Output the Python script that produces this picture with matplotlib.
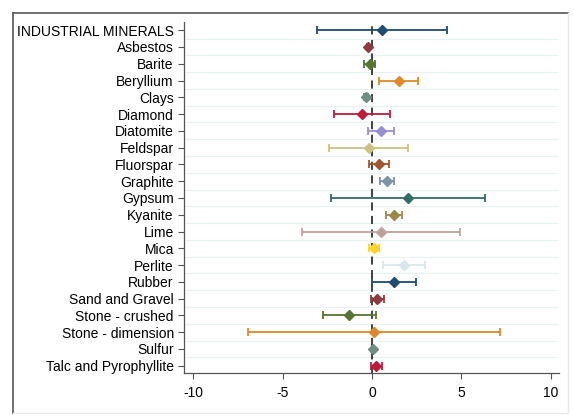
import matplotlib
matplotlib.use("Agg")
import matplotlib.pyplot as plt
from matplotlib.lines import Line2D

plt.rcParams['font.family'] = ['Liberation Sans', 'DejaVu Sans']

categories = ["INDUSTRIAL MINERALS", "Asbestos", "Barite", "Beryllium", "Clays", "Diamond",
              "Diatomite", "Feldspar", "Fluorspar", "Graphite", "Gypsum", "Kyanite", "Lime",
              "Mica", "Perlite", "Rubber", "Sand and Gravel", "Stone - crushed",
              "Stone - dimension", "Sulfur", "Talc and Pyrophyllite"]
estimates = [0.54, -0.24, -0.11, 1.49, -0.34, -0.58, 0.50, -0.19, 0.39, 0.82, 1.99, 1.23, 0.50,
             0.13, 1.79, 1.23, 0.30, -1.28, 0.13, 0.07, 0.24]
lower = [-3.09, -0.26, -0.43, 0.39, -0.44, -2.12, -0.24, -2.38, -0.15, 0.45, -2.31, 0.76, -3.89,
         -0.15, 0.61, -0.02, -0.04, -2.75, -6.91, 0.05, -0.07]
upper = [4.17, -0.22, 0.19, 2.59, -0.24, 0.99, 1.25, 2.03, 0.97, 1.23, 6.31, 1.69, 4.92,
         0.41, 2.96, 2.48, 0.65, 0.21, 7.15, 0.09, 0.58]
colors = ["#1f4a72", "#8e3a3f", "#587533", "#e0882a", "#6e8e84", "#bd1d3c", "#968fd2",
          "#cac383", "#a05530", "#7c93a8", "#316d66", "#9c884b", "#bfa29d", "#fcd22a",
          "#d9e6eb", "#1f4a72", "#8e3a3f", "#587533", "#e0882a", "#6e8e84", "#bd1d3c"]
xticks = [-10, -5, 0, 5, 10]

fig = plt.figure(figsize=(5.74, 4.15), dpi=100)
ax = fig.add_axes([0.321, 0.1005, 0.653, 0.847])

n = len(categories)
for i in range(n):
    ax.errorbar([estimates[i]], [i],
                xerr=[[estimates[i] - lower[i]], [upper[i] - estimates[i]]],
                fmt='D', color=colors[i], ms=5, capsize=3.2, elinewidth=1.3,
                capthick=1.3, zorder=3)

for i in range(n - 1):
    ax.axhline(i + 0.5, color="#eaf1f3", lw=0.9, zorder=0)

ax.axvline(0, color="#333333", lw=1.3, ls=(0, (4.5, 3)), zorder=2)

ax.set_xlim(-10.5, 10.46)
ax.set_ylim(n - 0.55, -0.5)
ax.set_yticks(range(n))
ax.set_yticklabels(categories, fontsize=10)
ax.set_xticks(xticks)
ax.set_xticklabels([str(t) for t in xticks], fontsize=10)
for s in ["top", "right"]:
    ax.spines[s].set_visible(False)
for s in ["left", "bottom"]:
    ax.spines[s].set_color("#555555")
    ax.spines[s].set_linewidth(0.9)
ax.tick_params(axis='both', colors="#555555", labelcolor="black", length=4, width=0.8)
ax.tick_params(axis='x', pad=5)

# outer frame (screenshot-like)
fig.add_artist(Line2D([0.022, 0.022], [0.005, 0.968], transform=fig.transFigure, color="#555555", lw=1.2))
fig.add_artist(Line2D([0.022, 0.9895], [0.968, 0.968], transform=fig.transFigure, color="#555555", lw=1.2))
fig.add_artist(Line2D([0.9895, 0.9895], [0.005, 0.968], transform=fig.transFigure, color="#e6eaec", lw=1.0))
fig.add_artist(Line2D([0.022, 0.9895], [0.005, 0.005], transform=fig.transFigure, color="#e6eaec", lw=1.0))

fig.savefig("out.png", dpi=100)
